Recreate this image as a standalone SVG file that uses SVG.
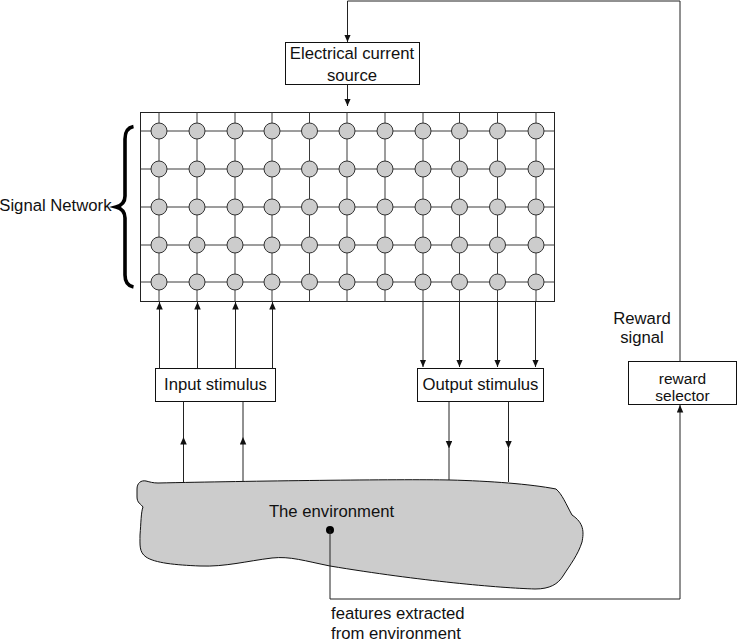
<svg xmlns="http://www.w3.org/2000/svg" width="738" height="643" viewBox="0 0 738 643">
<style>
text{font-family:"Liberation Sans",Arial,sans-serif;font-size:16.7px;fill:#111}
.c{text-anchor:middle}
.sm{font-size:15.5px}
.box{fill:#fff;stroke:#111;stroke-width:1}
.wire{fill:none;stroke:#222;stroke-width:1}
.gl{stroke:#3a3a3a;stroke-width:1}
.node{fill:#cccccc;stroke:#333;stroke-width:1}
</style>
<defs>
<marker id="ah" markerUnits="userSpaceOnUse" markerWidth="8" markerHeight="7" refX="7.5" refY="3.25" orient="auto">
<path d="M0,0 L7.5,3.25 L0,6.5 z" fill="#111"/>
</marker>
</defs>
<rect width="738" height="643" fill="#fff"/>

<g id="signal-network">
<rect x="140.5" y="112.5" width="414" height="189" fill="#fff" stroke="#222" stroke-width="1"/>
<g class="gl">
<line x1="159" y1="112.5" x2="159" y2="301.5"/>
<line x1="197" y1="112.5" x2="197" y2="301.5"/>
<line x1="235" y1="112.5" x2="235" y2="301.5"/>
<line x1="272" y1="112.5" x2="272" y2="301.5"/>
<line x1="309.5" y1="112.5" x2="309.5" y2="301.5"/>
<line x1="347" y1="112.5" x2="347" y2="301.5"/>
<line x1="385" y1="112.5" x2="385" y2="301.5"/>
<line x1="423" y1="112.5" x2="423" y2="301.5"/>
<line x1="459.5" y1="112.5" x2="459.5" y2="301.5"/>
<line x1="497.5" y1="112.5" x2="497.5" y2="301.5"/>
<line x1="536" y1="112.5" x2="536" y2="301.5"/>
<line x1="140.5" y1="131" x2="554.5" y2="131"/>
<line x1="140.5" y1="169" x2="554.5" y2="169"/>
<line x1="140.5" y1="207" x2="554.5" y2="207"/>
<line x1="140.5" y1="245" x2="554.5" y2="245"/>
<line x1="140.5" y1="282" x2="554.5" y2="282"/>
</g>
<g class="node">
<circle cx="159" cy="131" r="8"/><circle cx="197" cy="131" r="8"/><circle cx="235" cy="131" r="8"/><circle cx="272" cy="131" r="8"/><circle cx="309.5" cy="131" r="8"/><circle cx="347" cy="131" r="8"/><circle cx="385" cy="131" r="8"/><circle cx="423" cy="131" r="8"/><circle cx="459.5" cy="131" r="8"/><circle cx="497.5" cy="131" r="8"/><circle cx="536" cy="131" r="8"/>
<circle cx="159" cy="169" r="8"/><circle cx="197" cy="169" r="8"/><circle cx="235" cy="169" r="8"/><circle cx="272" cy="169" r="8"/><circle cx="309.5" cy="169" r="8"/><circle cx="347" cy="169" r="8"/><circle cx="385" cy="169" r="8"/><circle cx="423" cy="169" r="8"/><circle cx="459.5" cy="169" r="8"/><circle cx="497.5" cy="169" r="8"/><circle cx="536" cy="169" r="8"/>
<circle cx="159" cy="207" r="8"/><circle cx="197" cy="207" r="8"/><circle cx="235" cy="207" r="8"/><circle cx="272" cy="207" r="8"/><circle cx="309.5" cy="207" r="8"/><circle cx="347" cy="207" r="8"/><circle cx="385" cy="207" r="8"/><circle cx="423" cy="207" r="8"/><circle cx="459.5" cy="207" r="8"/><circle cx="497.5" cy="207" r="8"/><circle cx="536" cy="207" r="8"/>
<circle cx="159" cy="245" r="8"/><circle cx="197" cy="245" r="8"/><circle cx="235" cy="245" r="8"/><circle cx="272" cy="245" r="8"/><circle cx="309.5" cy="245" r="8"/><circle cx="347" cy="245" r="8"/><circle cx="385" cy="245" r="8"/><circle cx="423" cy="245" r="8"/><circle cx="459.5" cy="245" r="8"/><circle cx="497.5" cy="245" r="8"/><circle cx="536" cy="245" r="8"/>
<circle cx="159" cy="282" r="8"/><circle cx="197" cy="282" r="8"/><circle cx="235" cy="282" r="8"/><circle cx="272" cy="282" r="8"/><circle cx="309.5" cy="282" r="8"/><circle cx="347" cy="282" r="8"/><circle cx="385" cy="282" r="8"/><circle cx="423" cy="282" r="8"/><circle cx="459.5" cy="282" r="8"/><circle cx="497.5" cy="282" r="8"/><circle cx="536" cy="282" r="8"/>
</g>
<path d="M133.5,126.5 C128,127.5 125,131 125,139 L125,196 C125,202.5 121.5,205.5 116,207 C121.5,208.5 125,211.5 125,218 L125,275 C125,282.5 128,286 133.5,287" fill="none" stroke="#000" stroke-width="3.6"/>
<text x="111.5" y="211" text-anchor="end">Signal Network</text>
</g>

<g id="electrical-current-source">
<rect class="box" x="285.5" y="42.5" width="134" height="42"/>
<text class="c" x="352" y="58.5">Electrical current</text>
<text class="c" x="352" y="80.5">source</text>
</g>

<g id="input-stimulus">
<rect class="box" x="155.5" y="368.5" width="120" height="33"/>
<text class="c" x="215.5" y="390">Input stimulus</text>
</g>

<g id="output-stimulus">
<rect class="box" x="417.5" y="368.5" width="126" height="33"/>
<text class="c" x="480.5" y="390">Output stimulus</text>
</g>

<g id="reward-selector">
<rect class="box" x="628.5" y="361.5" width="108" height="43"/>
<text class="c sm" x="682.5" y="383.5">reward</text>
<text class="c sm" x="682.5" y="400.5">selector</text>
</g>

<g id="environment">
<path d="M137,489 C137,483 141,480 146,481 C150,482 153,483 158,483 C250,481 400,479 450,480 C490,481 530,484 556,489 C562,494 566,504 572,515 C584,523 584,532 582,542 C578,555 570,565 563,576 C558,584 550,589 535,589 C500,588 420,581 330,566 C305,561 290,556 272,558 C247,561 225,567 200,566 C175,565 155,563 146,557 C139,552 140,545 140,535 C141,523 141,512 143,507 C141,504 137,503 137,497 Z" fill="#cccccc" stroke="#111" stroke-width="1"/>
<text class="c" x="331.5" y="516.5">The environment</text>
<circle cx="330" cy="530" r="4" fill="#000"/>
</g>

<g id="connectors">
<path class="wire" d="M680,361.5 V1 H347.5 V42" marker-end="url(#ah)"/>
<path class="wire" d="M347.5,84.5 V106" marker-end="url(#ah)"/>
<path class="wire" d="M159.5,368.5 V302" marker-end="url(#ah)"/>
<path class="wire" d="M197.5,368.5 V302" marker-end="url(#ah)"/>
<path class="wire" d="M235.5,368.5 V302" marker-end="url(#ah)"/>
<path class="wire" d="M272.5,368.5 V302" marker-end="url(#ah)"/>
<path class="wire" d="M423,301.5 V367" marker-end="url(#ah)"/>
<path class="wire" d="M459.5,301.5 V367" marker-end="url(#ah)"/>
<path class="wire" d="M497.5,301.5 V367" marker-end="url(#ah)"/>
<path class="wire" d="M535.5,301.5 V367" marker-end="url(#ah)"/>
<path class="wire" d="M183.5,482 L183.5,437 L183.5,401.5" marker-mid="url(#ah)"/>
<path class="wire" d="M243,481 L243,437 L243,401.5" marker-mid="url(#ah)"/>
<path class="wire" d="M449,401.5 L449,448.5 L449,480" marker-mid="url(#ah)"/>
<path class="wire" d="M508.5,401.5 L508.5,448.5 L508.5,482" marker-mid="url(#ah)"/>
<path class="wire" d="M330,530 V599 H680 V405" marker-end="url(#ah)"/>
</g>

<g id="labels">
<text class="c" x="642" y="324">Reward</text>
<text class="c" x="642" y="343">signal</text>
<text x="331" y="619">features extracted</text>
<text x="331" y="639">from environment</text>
</g>
</svg>
